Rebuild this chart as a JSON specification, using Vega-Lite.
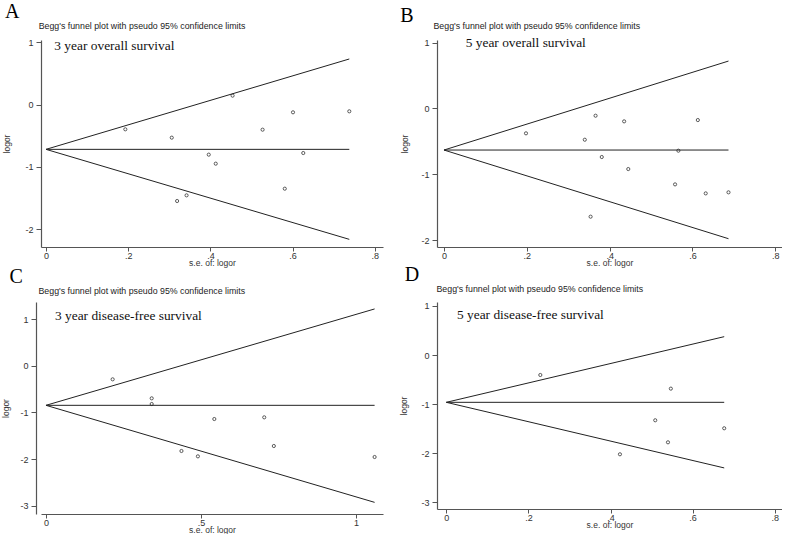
{
  "$schema": "https://vega.github.io/schema/vega-lite/v6.json",
  "background": "white",
  "padding": {"left": 1, "top": 2, "right": 0, "bottom": 0},
  "columns": 2,
  "spacing": {"row": 55, "column": 54},
  "bounds": "flush",
  "align": "each",
  "datasets": {
    "ptsA": [
      {"se": 0.193, "logor": -0.398}, {"se": 0.306, "logor": -0.532}, {"se": 0.454, "logor": 0.143},
      {"se": 0.396, "logor": -0.805}, {"se": 0.413, "logor": -0.95}, {"se": 0.319, "logor": -1.55},
      {"se": 0.342, "logor": -1.459}, {"se": 0.527, "logor": -0.404}, {"se": 0.601, "logor": -0.125},
      {"se": 0.626, "logor": -0.779}, {"se": 0.581, "logor": -1.352}, {"se": 0.738, "logor": -0.109}
    ],
    "linesA": [
      {"line": "center", "se": 0, "logor": -0.72}, {"line": "center", "se": 0.738, "logor": -0.72},
      {"line": "upper", "se": 0, "logor": -0.72}, {"line": "upper", "se": 0.738, "logor": 0.732},
      {"line": "lower", "se": 0, "logor": -0.72}, {"line": "lower", "se": 0.738, "logor": -2.166}
    ],
    "ptsB": [
      {"se": 0.198, "logor": -0.378}, {"se": 0.34, "logor": -0.475}, {"se": 0.366, "logor": -0.11},
      {"se": 0.381, "logor": -0.738}, {"se": 0.435, "logor": -0.196}, {"se": 0.445, "logor": -0.921},
      {"se": 0.354, "logor": -1.645}, {"se": 0.613, "logor": -0.176}, {"se": 0.566, "logor": -0.642},
      {"se": 0.558, "logor": -1.154}, {"se": 0.632, "logor": -1.291}, {"se": 0.687, "logor": -1.275}
    ],
    "linesB": [
      {"line": "center", "se": 0, "logor": -0.632}, {"line": "center", "se": 0.687, "logor": -0.632},
      {"line": "upper", "se": 0, "logor": -0.632}, {"line": "upper", "se": 0.687, "logor": 0.721},
      {"line": "lower", "se": 0, "logor": -0.632}, {"line": "lower", "se": 0.687, "logor": -1.98}
    ],
    "ptsC": [
      {"se": 0.215, "logor": -0.288}, {"se": 0.341, "logor": -0.696}, {"se": 0.341, "logor": -0.818},
      {"se": 0.543, "logor": -1.14}, {"se": 0.704, "logor": -1.104}, {"se": 0.437, "logor": -1.826},
      {"se": 0.49, "logor": -1.941}, {"se": 0.735, "logor": -1.719}, {"se": 1.06, "logor": -1.955}
    ],
    "linesC": [
      {"line": "center", "se": 0, "logor": -0.846}, {"line": "center", "se": 1.06, "logor": -0.846},
      {"line": "upper", "se": 0, "logor": -0.846}, {"line": "upper", "se": 1.06, "logor": 1.222},
      {"line": "lower", "se": 0, "logor": -0.846}, {"line": "lower", "se": 1.06, "logor": -2.928}
    ],
    "ptsD": [
      {"se": 0.229, "logor": -0.406}, {"se": 0.547, "logor": -0.684}, {"se": 0.509, "logor": -1.329},
      {"se": 0.54, "logor": -1.778}, {"se": 0.677, "logor": -1.492}, {"se": 0.423, "logor": -2.022}
    ],
    "linesD": [
      {"line": "center", "se": 0, "logor": -0.963}, {"line": "center", "se": 0.677, "logor": -0.963},
      {"line": "upper", "se": 0, "logor": -0.963}, {"line": "upper", "se": 0.677, "logor": 0.375},
      {"line": "lower", "se": 0, "logor": -0.963}, {"line": "lower", "se": 0.677, "logor": -2.3}
    ]
  },
  "concat": [
    {
      "width": 342, "height": 207,
      "layer": [
        {"data": {"name": "ptsA"},
         "mark": {"type": "point", "shape": "circle", "filled": false, "size": 10, "stroke": "#333", "strokeWidth": 0.8, "opacity": 1},
         "encoding": {
           "x": {"field": "se", "type": "quantitative", "scale": {"domain": [-0.0122, 0.82], "nice": false, "zero": false},
                 "axis": {"title": "s.e. of: logor", "values": [0, 0.2, 0.4, 0.6, 0.8], "format": "~g", "labelExpr": "replace(datum.label, '0.', '.')"}},
           "y": {"field": "logor", "type": "quantitative", "scale": {"domain": [-2.289, 1.037], "nice": false, "zero": false},
                 "axis": {"title": "logor", "titlePadding": 13, "values": [-2, -1, 0, 1], "labelExpr": "datum.value < 0 ? '-' + format(-datum.value, 'd') : format(datum.value, 'd')"}}
         }},
        {"data": {"name": "linesA"},
         "mark": {"type": "line", "color": "#222", "strokeWidth": 1},
         "encoding": {
           "x": {"field": "se", "type": "quantitative", "scale": {"domain": [-0.0122, 0.82], "nice": false, "zero": false}},
           "y": {"field": "logor", "type": "quantitative", "scale": {"domain": [-2.289, 1.037], "nice": false, "zero": false}},
           "detail": {"field": "line"}
         }},
        {"data": {"values": [{}]},
         "mark": {"type": "text", "text": "A", "font": "Liberation Serif", "fontSize": 20, "align": "left", "baseline": "alphabetic", "color": "#000"},
         "encoding": {
           "x": {"datum": -0.0998, "type": "quantitative", "scale": {"domain": [-0.0122, 0.82], "nice": false, "zero": false}},
           "y": {"datum": 1.386, "type": "quantitative", "scale": {"domain": [-2.289, 1.037], "nice": false, "zero": false}}
         }},
        {"data": {"values": [{}]},
         "mark": {"type": "text", "text": "Begg's funnel plot with pseudo 95% confidence limits", "font": "Liberation Sans", "fontSize": 8.8, "align": "left", "baseline": "alphabetic", "color": "#222"},
         "encoding": {
           "x": {"datum": -0.0178, "type": "quantitative", "scale": {"domain": [-0.0122, 0.82], "nice": false, "zero": false}},
           "y": {"datum": 1.214, "type": "quantitative", "scale": {"domain": [-2.289, 1.037], "nice": false, "zero": false}}
         }},
        {"data": {"values": [{}]},
         "mark": {"type": "text", "text": "3 year overall survival", "font": "Liberation Serif", "fontSize": 13.4, "align": "left", "baseline": "alphabetic", "color": "#111"},
         "encoding": {
           "x": {"datum": 0.0202, "type": "quantitative", "scale": {"domain": [-0.0122, 0.82], "nice": false, "zero": false}},
           "y": {"datum": 0.876, "type": "quantitative", "scale": {"domain": [-2.289, 1.037], "nice": false, "zero": false}}
         }}
      ]
    },
    {
      "width": 345, "height": 207,
      "layer": [
        {"data": {"name": "ptsB"},
         "mark": {"type": "point", "shape": "circle", "filled": false, "size": 10, "stroke": "#333", "strokeWidth": 0.8, "opacity": 1},
         "encoding": {
           "x": {"field": "se", "type": "quantitative", "scale": {"domain": [-0.0169, 0.8162], "nice": false, "zero": false},
                 "axis": {"title": "s.e. of: logor", "values": [0, 0.2, 0.4, 0.6, 0.8], "format": "~g", "labelExpr": "replace(datum.label, '0.', '.')"}},
           "y": {"field": "logor", "type": "quantitative", "scale": {"domain": [-2.106, 1.041], "nice": false, "zero": false},
                 "axis": {"title": "logor", "titlePadding": 11, "values": [-2, -1, 0, 1], "labelExpr": "datum.value < 0 ? '-' + format(-datum.value, 'd') : format(datum.value, 'd')"}}
         }},
        {"data": {"name": "linesB"},
         "mark": {"type": "line", "color": "#222", "strokeWidth": 1},
         "encoding": {
           "x": {"field": "se", "type": "quantitative", "scale": {"domain": [-0.0169, 0.8162], "nice": false, "zero": false}},
           "y": {"field": "logor", "type": "quantitative", "scale": {"domain": [-2.106, 1.041], "nice": false, "zero": false}},
           "detail": {"field": "line"}
         }},
        {"data": {"values": [{}]},
         "mark": {"type": "text", "text": "B", "font": "Liberation Serif", "fontSize": 20, "align": "left", "baseline": "alphabetic", "color": "#000"},
         "encoding": {
           "x": {"datum": -0.1055, "type": "quantitative", "scale": {"domain": [-0.0169, 0.8162], "nice": false, "zero": false}},
           "y": {"datum": 1.315, "type": "quantitative", "scale": {"domain": [-2.106, 1.041], "nice": false, "zero": false}}
         }},
        {"data": {"values": [{}]},
         "mark": {"type": "text", "text": "Begg's funnel plot with pseudo 95% confidence limits", "font": "Liberation Sans", "fontSize": 8.8, "align": "left", "baseline": "alphabetic", "color": "#222"},
         "encoding": {
           "x": {"datum": -0.0254, "type": "quantitative", "scale": {"domain": [-0.0169, 0.8162], "nice": false, "zero": false}},
           "y": {"datum": 1.208, "type": "quantitative", "scale": {"domain": [-2.106, 1.041], "nice": false, "zero": false}}
         }},
        {"data": {"values": [{}]},
         "mark": {"type": "text", "text": "5 year overall survival", "font": "Liberation Serif", "fontSize": 13.4, "align": "left", "baseline": "alphabetic", "color": "#111"},
         "encoding": {
           "x": {"datum": 0.0524, "type": "quantitative", "scale": {"domain": [-0.0169, 0.8162], "nice": false, "zero": false}},
           "y": {"datum": 0.935, "type": "quantitative", "scale": {"domain": [-2.106, 1.041], "nice": false, "zero": false}}
         }}
      ]
    },
    {
      "width": 342, "height": 212,
      "layer": [
        {"data": {"name": "ptsC"},
         "mark": {"type": "point", "shape": "circle", "filled": false, "size": 10, "stroke": "#333", "strokeWidth": 0.8, "opacity": 1},
         "encoding": {
           "x": {"field": "se", "type": "quantitative", "scale": {"domain": [-0.0161, 1.0871], "nice": false, "zero": false},
                 "axis": {"title": "s.e. of: logor", "values": [0, 0.5, 1], "format": "~g", "labelExpr": "replace(datum.label, '0.', '.')"}},
           "y": {"field": "logor", "type": "quantitative", "scale": {"domain": [-3.178, 1.371], "nice": false, "zero": false},
                 "axis": {"title": "logor", "offset": 5, "titlePadding": 9, "values": [-3, -2, -1, 0, 1], "labelExpr": "datum.value < 0 ? '-' + format(-datum.value, 'd') : format(datum.value, 'd')"}}
         }},
        {"data": {"name": "linesC"},
         "mark": {"type": "line", "color": "#222", "strokeWidth": 1},
         "encoding": {
           "x": {"field": "se", "type": "quantitative", "scale": {"domain": [-0.0161, 1.0871], "nice": false, "zero": false}},
           "y": {"field": "logor", "type": "quantitative", "scale": {"domain": [-3.178, 1.371], "nice": false, "zero": false}},
           "detail": {"field": "line"}
         }},
        {"data": {"values": [{}]},
         "mark": {"type": "text", "text": "C", "font": "Liberation Serif", "fontSize": 20, "align": "left", "baseline": "alphabetic", "color": "#000"},
         "encoding": {
           "x": {"datum": -0.1177, "type": "quantitative", "scale": {"domain": [-0.0161, 1.0871], "nice": false, "zero": false}},
           "y": {"datum": 1.774, "type": "quantitative", "scale": {"domain": [-3.178, 1.371], "nice": false, "zero": false}}
         }},
        {"data": {"values": [{}]},
         "mark": {"type": "text", "text": "Begg's funnel plot with pseudo 95% confidence limits", "font": "Liberation Sans", "fontSize": 8.8, "align": "left", "baseline": "alphabetic", "color": "#222"},
         "encoding": {
           "x": {"datum": -0.0242, "type": "quantitative", "scale": {"domain": [-0.0161, 1.0871], "nice": false, "zero": false}},
           "y": {"datum": 1.553, "type": "quantitative", "scale": {"domain": [-3.178, 1.371], "nice": false, "zero": false}}
         }},
        {"data": {"values": [{}]},
         "mark": {"type": "text", "text": "3 year disease-free survival", "font": "Liberation Serif", "fontSize": 13.4, "align": "left", "baseline": "alphabetic", "color": "#111"},
         "encoding": {
           "x": {"datum": 0.029, "type": "quantitative", "scale": {"domain": [-0.0161, 1.0871], "nice": false, "zero": false}},
           "y": {"datum": 0.985, "type": "quantitative", "scale": {"domain": [-3.178, 1.371], "nice": false, "zero": false}}
         }}
      ]
    },
    {
      "width": 345, "height": 207,
      "layer": [
        {"data": {"name": "ptsD"},
         "mark": {"type": "point", "shape": "circle", "filled": false, "size": 10, "stroke": "#333", "strokeWidth": 0.8, "opacity": 1},
         "encoding": {
           "x": {"field": "se", "type": "quantitative", "scale": {"domain": [-0.0227, 0.8178], "nice": false, "zero": false},
                 "axis": {"title": "s.e. of: logor", "values": [0, 0.2, 0.4, 0.6, 0.8], "format": "~g", "labelExpr": "replace(datum.label, '0.', '.')"}},
           "y": {"field": "logor", "type": "quantitative", "scale": {"domain": [-3.137, 1.0815], "nice": false, "zero": false},
                 "axis": {"title": "logor", "titlePadding": 12, "values": [-3, -2, -1, 0, 1], "labelExpr": "datum.value < 0 ? '-' + format(-datum.value, 'd') : format(datum.value, 'd')"}}
         }},
        {"data": {"name": "linesD"},
         "mark": {"type": "line", "color": "#222", "strokeWidth": 1},
         "encoding": {
           "x": {"field": "se", "type": "quantitative", "scale": {"domain": [-0.0227, 0.8178], "nice": false, "zero": false}},
           "y": {"field": "logor", "type": "quantitative", "scale": {"domain": [-3.137, 1.0815], "nice": false, "zero": false}},
           "detail": {"field": "line"}
         }},
        {"data": {"values": [{}]},
         "mark": {"type": "text", "text": "D", "font": "Liberation Serif", "fontSize": 20, "align": "left", "baseline": "alphabetic", "color": "#000"},
         "encoding": {
           "x": {"datum": -0.1014, "type": "quantitative", "scale": {"domain": [-0.0227, 0.8178], "nice": false, "zero": false}},
           "y": {"datum": 1.509, "type": "quantitative", "scale": {"domain": [-3.137, 1.0815], "nice": false, "zero": false}}
         }},
        {"data": {"values": [{}]},
         "mark": {"type": "text", "text": "Begg's funnel plot with pseudo 95% confidence limits", "font": "Liberation Sans", "fontSize": 8.8, "align": "left", "baseline": "alphabetic", "color": "#222"},
         "encoding": {
           "x": {"datum": -0.0239, "type": "quantitative", "scale": {"domain": [-0.0227, 0.8178], "nice": false, "zero": false}},
           "y": {"datum": 1.295, "type": "quantitative", "scale": {"domain": [-3.137, 1.0815], "nice": false, "zero": false}}
         }},
        {"data": {"values": [{}]},
         "mark": {"type": "text", "text": "5 year disease-free survival", "font": "Liberation Serif", "fontSize": 13.4, "align": "left", "baseline": "alphabetic", "color": "#111"},
         "encoding": {
           "x": {"datum": 0.026, "type": "quantitative", "scale": {"domain": [-0.0227, 0.8178], "nice": false, "zero": false}},
           "y": {"datum": 0.729, "type": "quantitative", "scale": {"domain": [-3.137, 1.0815], "nice": false, "zero": false}}
         }}
      ]
    }
  ],
  "config": {
    "view": {"stroke": null},
    "axis": {
      "grid": false,
      "domainColor": "#555",
      "domainWidth": 1.2,
      "tickColor": "#555",
      "tickWidth": 1,
      "labelFont": "Liberation Sans",
      "labelFontSize": 9,
      "labelColor": "#333",
      "labelFlush": false,
      "titleFont": "Liberation Sans",
      "titleFontSize": 8.5,
      "titleFontWeight": "normal",
      "titleColor": "#333"
    },
    "axisX": {"tickSize": 4, "labelPadding": 0, "titlePadding": -2},
    "axisY": {"tickSize": 5, "labelPadding": 3}
  }
}
